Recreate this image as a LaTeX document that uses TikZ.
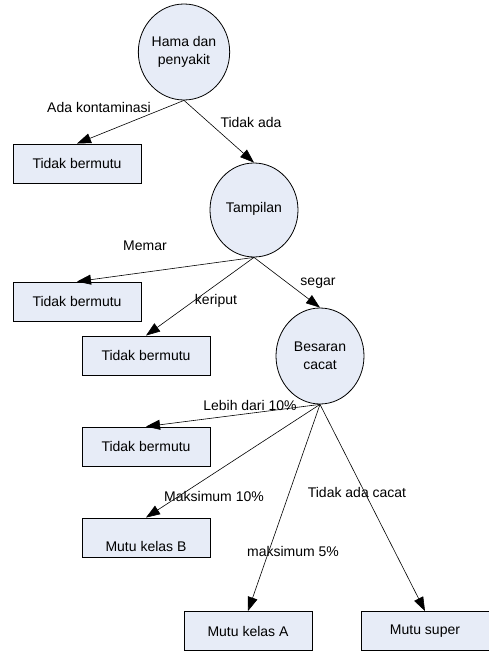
\documentclass[tikz,border=0pt]{standalone}
\usepackage{fontspec}
\setmainfont{Liberation Sans}
\usetikzlibrary{arrows.meta,shapes.geometric}
\definecolor{nodefill}{RGB}{231,236,247}
\begin{document}
\begin{tikzpicture}[x=1pt,y=-1pt,
  every node/.style={font=\fontsize{14}{18}\selectfont},
  circ/.style={draw=black, line width=0.8pt, fill=nodefill, ellipse, inner sep=0pt, align=center},
  box/.style={draw=black, line width=0.9pt, fill=nodefill, minimum width=128pt, minimum height=39pt, inner sep=0pt},
  arr/.style={-{Triangle[length=14pt,width=10pt]}, line width=0.6pt},
  lbl/.style={inner sep=0pt}
]
\useasboundingbox (0,0) rectangle (489,651);
% circles (drawn as ellipses)
\node[circ, minimum width=87pt, minimum height=96pt] (c1) at (184,52) {Hama dan\\penyakit};
\node[circ, minimum width=88pt, minimum height=94pt] (c2) at (254,210) {\raisebox{6pt}{Tampilan}};
\node[circ, minimum width=88pt, minimum height=96pt] (c3) at (320,356) {Besaran\\cacat};
% boxes
\node[box] (b1) at (77,163.5) {Tidak bermutu};
\node[box] (b2) at (77,301.5) {Tidak bermutu};
\node[box] (b3) at (146,355.5) {Tidak bermutu};
\node[box] (b4) at (146,446.5) {Tidak bermutu};
\node[box, text height=28pt, text depth=0pt, inner ysep=0pt] (b5) at (146,537.5) {Mutu kelas B};
\node[box] (b6) at (248,631) {Mutu kelas A};
\node[box] (b7) at (425,631) {Mutu super};
% connectors
\draw[arr] (c1.south) -- (b1.north);
\draw[arr] (c1.south) -- (c2.north);
\draw[arr] (c2.south) -- (b2.north);
\draw[arr] (c2.south) -- (b3.north);
\draw[arr] (c2.south) -- (c3.north);
\draw[arr] (c3.south) -- (b4.north);
\draw[arr] (c3.south) -- (b5.north);
\draw[arr] (c3.south) -- (b6.north);
\draw[arr] (c3.south) -- (b7.north);
% labels
\node[lbl] (l1) at (99,107) {Ada kontaminasi};
\node[lbl] (l2) at (251,122) {Tidak ada};
\node[lbl] (l3) at (145,246) {Memar};
\node[lbl] (l4) at (216,301) {keriput};
\node[lbl] (l5) at (318,283) {segar};
\node[lbl] (l6) at (250,405) {Lebih dari 10\%};
\node[lbl] (l7) at (214,496) {Maksimum 10\%};
\node[lbl] (l8) at (357,492) {Tidak ada cacat};
\node[lbl] (l9) at (293,551) {maksimum 5\%};
\end{tikzpicture}
\end{document}
